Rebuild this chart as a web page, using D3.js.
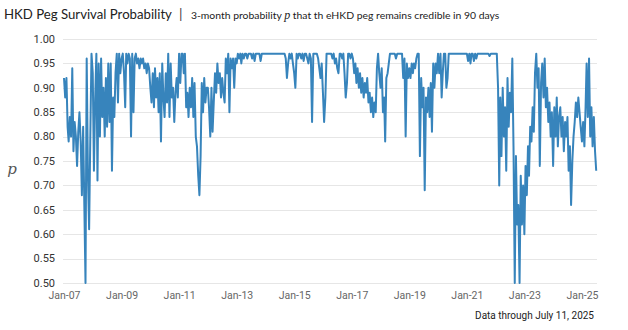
<!DOCTYPE html>
<html>
<head>
<meta charset="utf-8">
<script src="https://cdn.jsdelivr.net/npm/d3@7"></script>
<style>
    html, body { margin: 0; padding: 0; background: #fff; }
    svg { display: block; }
</style>
</head>
<body>
<div id="chart"></div>
<script>
// Semi-monthly readings of p (1st and 16th of each month), one array per year
const p2007 = [0.92, 0.88, 0.92, 0.82, 0.79, 0.84, 0.80, 0.94, 0.77, 0.83, 0.80, 0.74, 0.81, 0.85, 0.79, 0.68, 0.82, 0.66, 0.50, 0.96, 0.72, 0.61, 0.80, 0.97];
const p2008 = [0.93, 0.73, 0.88, 0.97, 0.71, 0.95, 0.80, 0.96, 0.84, 0.90, 0.80, 0.92, 0.82, 0.95, 0.83, 0.95, 0.73, 0.88, 0.84, 0.93, 0.97, 0.87, 0.97, 0.93];
const p2009 = [0.96, 0.97, 0.93, 0.86, 0.97, 0.95, 0.97, 0.96, 0.80, 0.97, 0.85, 0.96, 0.97, 0.95, 0.96, 0.94, 0.96, 0.95, 0.96, 0.94, 0.95, 0.93, 0.95, 0.94];
const p2010 = [0.90, 0.87, 0.93, 0.86, 0.94, 0.88, 0.92, 0.85, 0.93, 0.79, 0.95, 0.88, 0.84, 0.93, 0.87, 0.97, 0.84, 0.95, 0.88, 0.90, 0.83, 0.89, 0.92, 0.88];
const p2011 = [0.97, 0.91, 0.97, 0.97, 0.93, 0.97, 0.86, 0.89, 0.84, 0.90, 0.86, 0.92, 0.84, 0.91, 0.80, 0.78, 0.72, 0.68, 0.76, 0.91, 0.85, 0.92, 0.87, 0.90];
const p2012 = [0.90, 0.86, 0.80, 0.90, 0.81, 0.87, 0.93, 0.89, 0.95, 0.91, 0.93, 0.88, 0.92, 0.89, 0.87, 0.96, 0.93, 0.97, 0.85, 0.96, 0.94, 0.96, 0.90, 0.96];
const p2013 = [0.95, 0.97, 0.96, 0.97, 0.95, 0.97, 0.96, 0.97, 0.97, 0.96, 0.97, 0.97, 0.97, 0.96, 0.97, 0.955, 0.97, 0.97, 0.97, 0.97, 0.955, 0.97, 0.97, 0.97];
const p2014 = [0.97, 0.97, 0.97, 0.97, 0.97, 0.97, 0.97, 0.97, 0.97, 0.97, 0.97, 0.97, 0.97, 0.97, 0.97, 0.97, 0.97, 0.96, 0.92, 0.95, 0.97, 0.96, 0.97, 0.95];
const p2015 = [0.93, 0.90, 0.97, 0.96, 0.97, 0.97, 0.96, 0.97, 0.955, 0.97, 0.97, 0.96, 0.95, 0.97, 0.96, 0.83, 0.97, 0.97, 0.97, 0.97, 0.96, 0.94, 0.92, 0.95];
const p2016 = [0.89, 0.83, 0.88, 0.97, 0.97, 0.97, 0.97, 0.97, 0.96, 0.97, 0.95, 0.96, 0.94, 0.93, 0.97, 0.97, 0.96, 0.97, 0.93, 0.88, 0.91, 0.97, 0.97, 0.96];
const p2017 = [0.97, 0.96, 0.93, 0.95, 0.91, 0.94, 0.90, 0.93, 0.89, 0.92, 0.88, 0.91, 0.89, 0.92, 0.87, 0.89, 0.85, 0.88, 0.84, 0.87, 0.85, 0.94, 0.97, 0.93];
const p2018 = [0.90, 0.94, 0.85, 0.88, 0.79, 0.92, 0.93, 0.95, 0.97, 0.97, 0.97, 0.97, 0.97, 0.96, 0.97, 0.97, 0.97, 0.97, 0.97, 0.92, 0.96, 0.80, 0.95, 0.92];
const p2019 = [0.94, 0.92, 0.95, 0.93, 0.95, 0.94, 0.96, 0.97, 0.97, 0.76, 0.92, 0.86, 0.90, 0.69, 0.88, 0.85, 0.90, 0.84, 0.91, 0.81, 0.95, 0.90, 0.95, 0.93];
const p2020 = [0.97, 0.93, 0.97, 0.88, 0.93, 0.97, 0.97, 0.90, 0.92, 0.97, 0.97, 0.97, 0.97, 0.97, 0.97, 0.97, 0.97, 0.97, 0.97, 0.97, 0.97, 0.97, 0.97, 0.97];
const p2021 = [0.97, 0.955, 0.97, 0.95, 0.97, 0.97, 0.955, 0.97, 0.96, 0.97, 0.97, 0.97, 0.97, 0.97, 0.97, 0.97, 0.97, 0.97, 0.97, 0.965, 0.97, 0.97, 0.97, 0.97];
const p2022 = [0.97, 0.97, 0.90, 0.70, 0.88, 0.76, 0.90, 0.80, 0.86, 0.73, 0.92, 0.82, 0.89, 0.85, 0.96, 0.78, 0.50, 0.76, 0.62, 0.66, 0.50, 0.72, 0.62, 0.70];
const p2023 = [0.60, 0.74, 0.68, 0.78, 0.72, 0.82, 0.79, 0.86, 0.81, 0.93, 0.97, 0.90, 0.94, 0.74, 0.91, 0.95, 0.88, 0.96, 0.86, 0.90, 0.83, 0.87, 0.80, 0.85];
const p2024 = [0.74, 0.86, 0.80, 0.88, 0.78, 0.84, 0.86, 0.80, 0.84, 0.77, 0.83, 0.80, 0.84, 0.73, 0.78, 0.66, 0.75, 0.80, 0.83, 0.87, 0.84, 0.88, 0.85, 0.82];
const p2025 = [0.79, 0.83, 0.78, 0.86, 0.95, 0.84, 0.96, 0.80, 0.86, 0.78, 0.84, 0.77, 0.73];

const years = [2007, 2008, 2009, 2010, 2011, 2012, 2013, 2014, 2015, 2016, 2017, 2018, 2019, 2020, 2021, 2022, 2023, 2024, 2025];
const yearlyValues = [p2007, p2008, p2009, p2010, p2011, p2012, p2013, p2014, p2015, p2016, p2017, p2018, p2019, p2020, p2021, p2022, p2023, p2024, p2025];

const startDate = new Date(2007, 0, 1);
const endDate = new Date(2025, 6, 11);
const yTicks = [0.50, 0.55, 0.60, 0.65, 0.70, 0.75, 0.80, 0.85, 0.90, 0.95, 1.00];
const xTickYears = [2007, 2009, 2011, 2013, 2015, 2017, 2019, 2021, 2023, 2025];

const width = 628;
const height = 330;
const plot = { left: 64, right: 597, top: 39, bottom: 283 };
const lineColor = '#3784bc';
const fontFamily = 'Roboto, "Noto Sans", sans-serif';
const titleFont = 'Lato, Roboto, sans-serif';

// flatten yearly arrays into dated points
const series = [];
years.forEach((year, k) => {
    yearlyValues[k].forEach((v, i) => {
        series.push({ date: new Date(year, Math.floor(i / 2), i % 2 ? 16 : 1), value: v });
    });
});

const svg = d3.select('#chart')
    .append('svg')
    .attr('width', width)
    .attr('height', height);

const x = d3.scaleTime()
    .domain([startDate, endDate])
    .range([plot.left, plot.right]);

const y = d3.scaleLinear()
    .domain([0.5, 1.0])
    .range([plot.bottom, plot.top]);

// horizontal grid
svg.append('g')
    .selectAll('line')
    .data(yTicks)
    .join('line')
    .attr('x1', plot.left - 1)
    .attr('x2', plot.right)
    .attr('y1', d => Math.round(y(d)) + 0.5)
    .attr('y2', d => Math.round(y(d)) + 0.5)
    .attr('stroke', '#e6e6e6')
    .attr('stroke-width', 1);

// y tick labels
svg.append('g')
    .selectAll('text')
    .data(yTicks)
    .join('text')
    .attr('x', 55)
    .attr('y', d => y(d))
    .attr('dy', '0.35em')
    .attr('text-anchor', 'end')
    .attr('font-family', fontFamily)
    .attr('font-size', '11px')
    .attr('fill', '#333')
    .text(d => d3.format('.2f')(d));

// x tick labels
const xAxis = d3.axisBottom(x)
    .tickValues(xTickYears.map(yr => new Date(yr, 0, 1)))
    .tickFormat(d3.timeFormat('%b-%y'))
    .tickSize(0)
    .tickPadding(9);

svg.append('g')
    .attr('transform', `translate(0, ${plot.bottom})`)
    .call(xAxis)
    .call(g => g.select('.domain').remove())
    .selectAll('text')
    .attr('font-family', fontFamily)
    .attr('font-size', '10.5px')
    .attr('fill', '#666');

// the probability line
const line = d3.line()
    .x(d => x(d.date))
    .y(d => y(d.value));

svg.append('path')
    .datum(series)
    .attr('fill', 'none')
    .attr('stroke', lineColor)
    .attr('stroke-width', 2)
    .attr('stroke-linejoin', 'round')
    .attr('d', line);

// y label
svg.append('text')
    .attr('x', 12)
    .attr('y', 174)
    .attr('text-anchor', 'middle')
    .attr('font-family', '"DejaVu Serif", "Liberation Serif", serif')
    .attr('font-style', 'italic')
    .attr('font-size', '15px')
    .attr('fill', '#555')
    .text('p');

// title: main part, divider, then the smaller subtitle placed after it
const title = svg.append('text')
    .attr('x', 4)
    .attr('y', 19)
    .attr('font-family', titleFont)
    .attr('font-size', '13.2px')
    .attr('fill', '#222')
    .text('HKD Peg Survival Probability');

const titleEnd = 4 + title.node().getComputedTextLength();

svg.append('text')
    .attr('x', titleEnd + 7)
    .attr('y', 19)
    .attr('font-family', titleFont)
    .attr('font-size', '14px')
    .attr('fill', '#444')
    .text('|');

const subtitle = svg.append('text')
    .attr('x', titleEnd + 19)
    .attr('y', 19)
    .attr('font-family', titleFont)
    .attr('font-size', '10.4px')
    .attr('fill', '#222');

subtitle.append('tspan')
    .text('3-month probability ');

subtitle.append('tspan')
    .attr('font-size', '12px')
    .attr('font-family', '"Liberation Serif", "DejaVu Serif", serif')
    .attr('font-style', 'italic')
    .text('p');

subtitle.append('tspan')
    .text(' that th eHKD peg remains credible in 90 days');

// footnote
svg.append('text')
    .attr('x', 594)
    .attr('y', 319)
    .attr('text-anchor', 'end')
    .attr('font-family', fontFamily)
    .attr('font-size', '10px')
    .attr('fill', '#222')
    .text('Data through July 11, 2025');
</script>
</body>
</html>
